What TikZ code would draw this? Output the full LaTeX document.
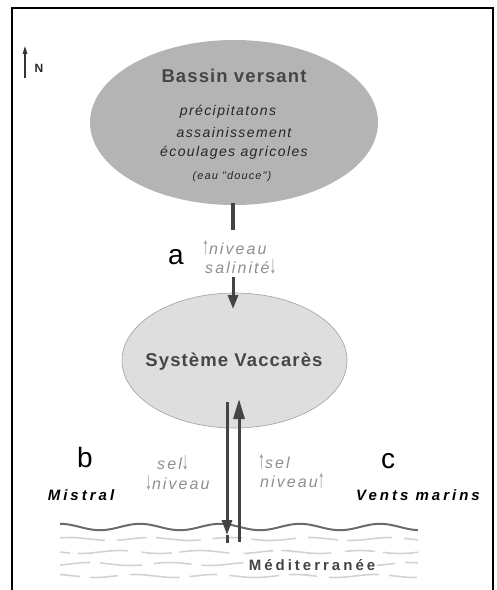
\documentclass[tikz,border=0pt]{standalone}
\usepackage{fontspec}
\usetikzlibrary{shapes.geometric,arrows.meta}
\setmainfont{Liberation Sans}
\newfontfamily\lsTitle[LetterSpace=6]{Liberation Sans}
\newfontfamily\lsText[LetterSpace=10]{Liberation Sans}
\newfontfamily\lsGray[LetterSpace=13]{Liberation Sans}
\newfontfamily\lsWind[LetterSpace=20]{Liberation Sans}
\definecolor{basin}{HTML}{B4B4B4}
\definecolor{lagoon}{HTML}{DEDEDE}
\definecolor{lagoonedge}{HTML}{A0A0A0}
\definecolor{titlegray}{HTML}{464646}
\definecolor{labgray}{HTML}{8E8E8E}
\definecolor{arrgray}{HTML}{444444}
\definecolor{seadark}{HTML}{6A6A6A}
\definecolor{sealight}{HTML}{D2D2D2}
% tall thin arrows used inside the grey labels
\newcommand\tallup{\scalebox{0.85}[1.55]{↑}}
\newcommand\talldown{\scalebox{0.85}[1.55]{↓}}
\tikzset{
  zone/.style={ellipse, inner sep=0pt},
  title/.style={font=\lsTitle\bfseries\fontsize{18.5bp}{22bp}\selectfont, text=titlegray},
  content/.style={font=\lsText\itshape\fontsize{14bp}{16bp}\selectfont, text=black!85},
  small/.style={font=\lsText\itshape\fontsize{11bp}{13bp}\selectfont, text=black!85},
  graylab/.style={font=\lsGray\itshape\fontsize{16bp}{18bp}\selectfont, text=labgray, anchor=west, inner sep=0pt},
  letterlab/.style={font=\fontsize{28bp}{30bp}\selectfont},
  wind/.style={font=\lsWind\bfseries\itshape\fontsize{15bp}{18bp}\selectfont},
  flow/.style={line width=3bp, draw=arrgray, -{Triangle[length=15bp, width=10bp]}},
  sealine/.style={draw=sealight, line width=1.6bp},
}
\begin{document}
\begin{tikzpicture}[x=1bp, y=-1bp]
\useasboundingbox (0,0) rectangle (497,590);
% frame, open at the bottom
\draw[line width=1.3bp] (12,590) -- (12,8) -- (493,8) -- (493,590);

% north arrow
\coordinate (nS) at (25,78);
\coordinate (nT) at (25,46);
\draw[line width=1.3bp, draw=black!80, -{Triangle[length=8bp, width=4.5bp]}] (nS) -- (nT);
\node[font=\bfseries\fontsize{12bp}{14bp}\selectfont, text=black!85] (north) at (39,68) {N};

% catchment
\node[zone, fill=basin, minimum width=288bp, minimum height=165bp] (bv) at (234,122.5) {};
\node[title] (bvt) at (234,76) {Bassin versant};
\node[content] (c1) at (228,112) {précipitatons};
\node[content] (c2) at (234,132) {assainissement};
\node[content] (c3) at (234,153) {écoulages agricoles};
\node[small] (c4) at (232,177) {(eau "douce")};

% lagoon
\node[zone, fill=lagoon, draw=lagoonedge, line width=0.6bp, minimum width=225bp, minimum height=135bp] (vac) at (234.5,360.5) {};
\node[title] (vact) at (234,362) {Système Vaccarès};

% flow a : catchment to lagoon
\coordinate (aBar) at (233,230);
\coordinate (aStart) at (233,277);
\coordinate (aTip) at (233,309);
\draw[line width=4bp, draw=arrgray] ([yshift=2bp]bv.south -| aBar) -- (aBar);
\draw[flow, -{Triangle[length=14bp, width=10bp]}] (aStart) -- (aTip);
\node[letterlab] (la) at (176,257) {a};
\node[graylab] (a1) at (202,248) {\tallup niveau};
\node[graylab] (a2) at (205,267) {salinité\talldown};

% sea surface and waves
\draw[draw=seadark, line width=2bp] plot[domain=60:418, samples=90, smooth] (\x, {527 - 3.2*sin((\x-40)*4.5)});
\draw[sealine, dash pattern=on 45bp off 12bp on 30bp off 9bp] plot[domain=60:418, samples=60, smooth] (\x, {539 + 1.5*sin((\x-10)*4.5)});
\draw[sealine, dash pattern=on 30bp off 8bp on 50bp off 14bp, dash phase=20bp] plot[domain=60:418, samples=60, smooth] (\x, {552 + 1.5*sin((\x+20)*4.5)});
\draw[sealine, dash pattern=on 38bp off 10bp on 42bp off 12bp, dash phase=8bp] plot[domain=60:418, samples=60, smooth] (\x, {564 + 1.5*sin((\x-30)*4.5)});
\draw[sealine, dash pattern=on 50bp off 10bp on 28bp off 12bp, dash phase=30bp] plot[domain=60:418, samples=60, smooth] (\x, {576 + 1.5*sin((\x+5)*4.5)});
\node[fill=white, inner sep=2bp, font=\lsWind\bfseries\fontsize{15bp}{18bp}\selectfont, text=arrgray] (sea) at (312,565) {Méditerranée};

% exchanges lagoon <-> sea
\coordinate (dStart) at (227,402);
\coordinate (dTip) at (227,535);
\coordinate (dEnd) at (227,543);
\coordinate (uStart) at (239,542);
\coordinate (uTip) at (239,399);
\draw[flow] (dStart) -- (dTip);
\draw[line width=3bp, draw=arrgray] (dTip) -- (dEnd);
\draw[flow, -{Triangle[length=20bp, width=11bp]}] (uStart) -- (uTip);

% wind b
\node[letterlab] (lb) at (85,457) {b};
\node[wind] (mistral) at (81,495) {Mistral};
\node[graylab] (b1) at (157,463) {sel\talldown};
\node[graylab] (b2) at (145,483) {\talldown niveau};

% wind c
\node[letterlab] (lc) at (388,461) {c};
\node[wind] (vents) at (418,495) {Vents marins};
\node[graylab] (c5) at (258,462) {\tallup sel};
\node[graylab] (c6) at (260,481) {niveau\tallup};
\end{tikzpicture}
\end{document}
